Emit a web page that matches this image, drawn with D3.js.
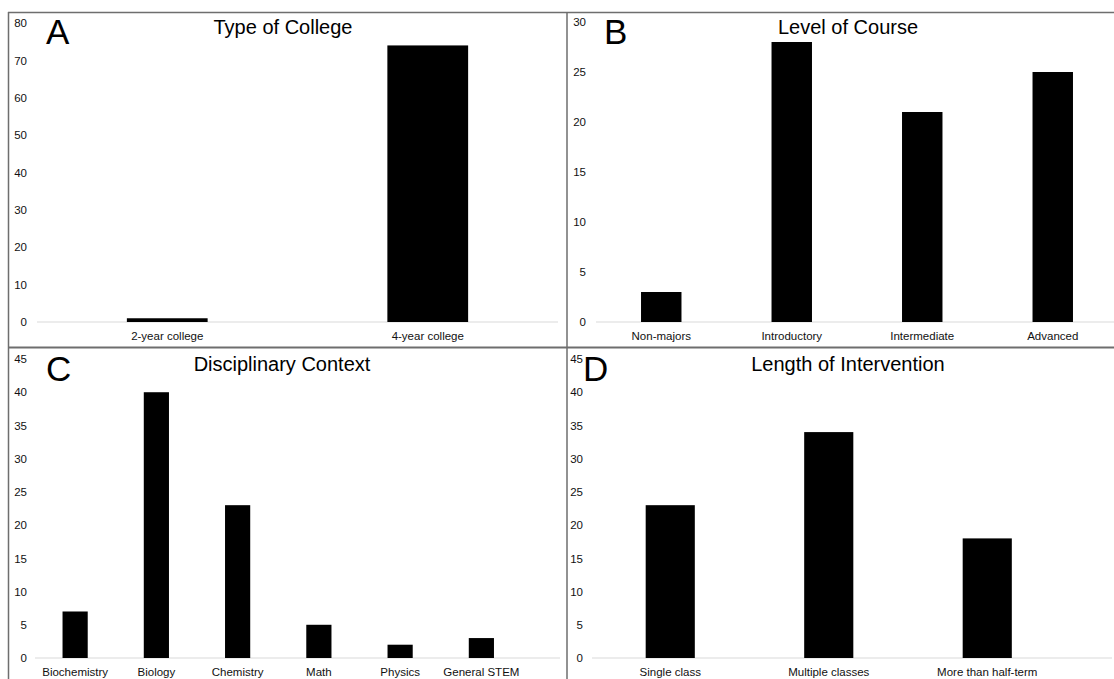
<!DOCTYPE html>
<html>
<head>
<meta charset="utf-8">
<script src="https://cdn.jsdelivr.net/npm/d3@7/dist/d3.min.js"></script>
<style>
  html, body { margin: 0; padding: 0; background: #fff; }
  svg { display: block; font-family: "Liberation Sans", Arial, Helvetica, sans-serif; }
</style>
</head>
<body>
<svg id="chart" width="1114" height="679"></svg>
<script>
// ---- Data ----
const collegeTypes = ["2-year college", "4-year college"];
const collegeCounts = [1, 74];
const collegeTicks = [0, 10, 20, 30, 40, 50, 60, 70, 80];

const courseLevels = ["Non-majors", "Introductory", "Intermediate", "Advanced"];
const courseCounts = [3, 28, 21, 25];
const courseTicks = [0, 5, 10, 15, 20, 25, 30];

const disciplines = ["Biochemistry", "Biology", "Chemistry", "Math", "Physics", "General STEM"];
const disciplineCounts = [7, 40, 23, 5, 2, 3];
const disciplineTicks = [0, 5, 10, 15, 20, 25, 30, 35, 40, 45];

const lengths = ["Single class", "Multiple classes", "More than half-term"];
const lengthCounts = [23, 34, 18];
const lengthTicks = [0, 5, 10, 15, 20, 25, 30, 35, 40, 45];

const panelLetters = ["A", "B", "C", "D"];
const panelTitles = ["Type of College", "Level of Course", "Disciplinary Context", "Length of Intervention"];

// ---- Layout ----
const svg = d3.select("#chart");

const panels = [
  { cats: collegeTypes, vals: collegeCounts, ticks: collegeTicks,
    x0: 37, x1: 558, base: 37, baseEnd: 558, y0: 322, y1: 23, tickX: 27, letterX: 46, titleX: 283, titleY: 34, letterY: 44 },
  { cats: courseLevels, vals: courseCounts, ticks: courseTicks,
    x0: 596, x1: 1118, base: 596, baseEnd: 1114, y0: 322, y1: 22, tickX: 586, letterX: 604, titleX: 848, titleY: 34, letterY: 44 },
  { cats: disciplines, vals: disciplineCounts, ticks: disciplineTicks,
    x0: 34.5, x1: 522, base: 35, baseEnd: 560, y0: 658, y1: 359, tickX: 27, letterX: 46, titleX: 282, titleY: 371, letterY: 381 },
  { cats: lengths, vals: lengthCounts, ticks: lengthTicks,
    x0: 591, x1: 1066.5, base: 592, baseEnd: 1112, y0: 658, y1: 359, tickX: 583, letterX: 583, titleX: 848, titleY: 371, letterY: 381 }
];

panels.forEach((p, i) => {
  const g = svg.append("g");
  const x = d3.scaleBand().domain(p.cats).range([p.x0, p.x1]).paddingInner(0.69).paddingOuter(0.345);
  const maxT = p.ticks[p.ticks.length - 1];
  const y = d3.scaleLinear().domain([0, maxT]).range([p.y0, p.y1]);

  // baseline
  g.append("line")
    .attr("x1", p.base).attr("x2", p.baseEnd)
    .attr("y1", y(0)).attr("y2", y(0))
    .attr("stroke", "#d9d9d9").attr("stroke-width", 1);

  // y axis
  const ya = g.append("g")
    .attr("transform", `translate(${p.tickX},0)`)
    .call(d3.axisLeft(y).tickValues(p.ticks).tickSize(0).tickPadding(0).tickFormat(d3.format("d")));
  ya.select(".domain").remove();
  ya.selectAll("text").attr("font-size", 11.5).attr("fill", "#111")
    .attr("font-family", "'Liberation Sans', Arial, sans-serif");

  // x axis labels
  const xa = g.append("g")
    .attr("transform", `translate(0,${y(0)})`)
    .call(d3.axisBottom(x).tickSize(0).tickPadding(10));
  xa.select(".domain").remove();
  xa.selectAll("text").attr("font-size", 11.5).attr("fill", "#111")
    .attr("font-family", "'Liberation Sans', Arial, sans-serif");

  // bars
  g.selectAll("rect.bar")
    .data(p.cats.map((c, k) => ({ c, v: p.vals[k] })))
    .enter().append("rect")
    .attr("class", "bar")
    .attr("x", d => x(d.c))
    .attr("width", x.bandwidth())
    .attr("y", d => y(d.v))
    .attr("height", d => y(0) - y(d.v))
    .attr("fill", "#000");

  // letter
  g.append("text")
    .attr("x", p.letterX).attr("y", p.letterY)
    .attr("font-size", 35).attr("fill", "#000")
    .text(panelLetters[i]);

  // title
  g.append("text")
    .attr("x", p.titleX).attr("y", p.titleY)
    .attr("text-anchor", "middle")
    .attr("font-size", 20).attr("fill", "#000")
    .text(panelTitles[i]);
});

// frame lines
const frame = svg.append("g").attr("stroke", "#6e6e6e").attr("fill", "none");
frame.append("line").attr("x1", 8).attr("x2", 1114).attr("y1", 12.5).attr("y2", 12.5).attr("stroke-width", 1.5);
frame.append("line").attr("x1", 8.5).attr("x2", 8.5).attr("y1", 12).attr("y2", 679).attr("stroke-width", 1.5);
frame.append("line").attr("x1", 567).attr("x2", 567).attr("y1", 12).attr("y2", 679).attr("stroke-width", 1.5);
frame.append("line").attr("x1", 8).attr("x2", 1114).attr("y1", 347.5).attr("y2", 347.5).attr("stroke-width", 2);
</script>
</body>
</html>
